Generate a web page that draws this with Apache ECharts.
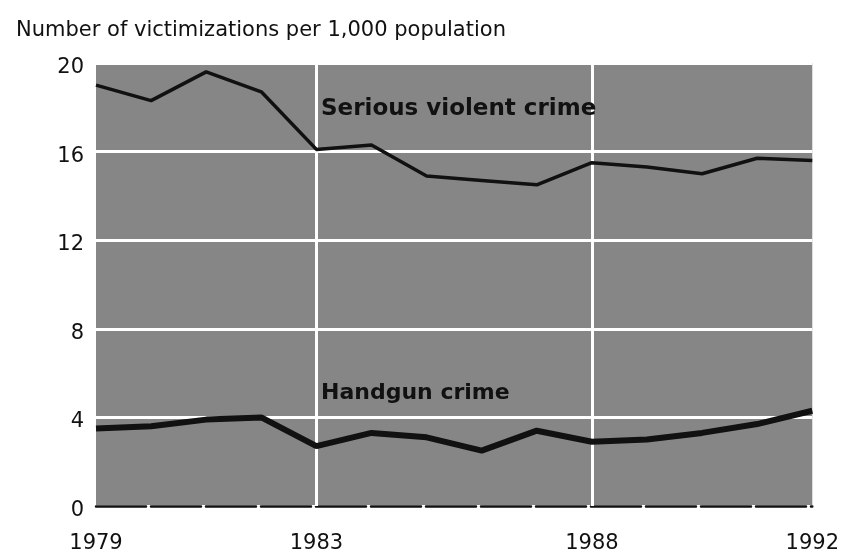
<!DOCTYPE html>
<html>
<head>
<meta charset="utf-8">
<script src="https://cdn.jsdelivr.net/npm/echarts@6/dist/echarts.min.js"></script>
<style>
html,body{margin:0;padding:0;background:#fff;}
#chart{width:842px;height:554px;}
</style>
</head>
<body>
<div id="chart"></div>
<script>
const years = [1979,1980,1981,1982,1983,1984,1985,1986,1987,1988,1989,1990,1991,1992];
const seriousViolent = [19.0,18.3,19.6,18.7,16.1,16.3,14.9,14.7,14.5,15.5,15.3,15.0,15.7,15.6];
const handgun = [3.5,3.6,3.9,4.0,2.7,3.3,3.1,2.5,3.4,2.9,3.0,3.3,3.7,4.3];
const xTickLabels = [1979,1983,1988,1992];
const xGridYears = [1983,1988];
const yTicks = [0,4,8,12,16,20];
const titleText = 'Number of victimizations per 1,000 population';
const seriousLabel = 'Serious violent crime';
const handgunLabel = 'Handgun crime';

const chart = echarts.init(document.getElementById('chart'), null, {renderer:'canvas'});
const pair = (arr) => years.map((y,i)=>[y,arr[i]]);

chart.setOption({
  animation:false,
  backgroundColor:'#ffffff',
  grid:{left:96,right:27,top:63,bottom:44,show:true,backgroundColor:'#868686',borderWidth:0},
  title:{text:titleText,left:11,top:15,textStyle:{fontFamily:'DejaVu Sans',fontSize:21,fontWeight:'normal',color:'#111'}},
  xAxis:{
    type:'value',min:1979,max:1992,interval:1,
    axisLine:{show:true,lineStyle:{color:'#111',width:2.5,type:[50,5]}},
    axisTick:{show:false},
    splitLine:{show:false},
    axisLabel:{customValues:xTickLabels,margin:27,fontFamily:'DejaVu Sans',fontSize:21,color:'#111',formatter:v=>String(v)}
  },
  yAxis:{
    type:'value',min:0,max:20,interval:4,
    axisLine:{show:false},axisTick:{show:false},
    splitLine:{show:true,lineStyle:{color:'#ffffff',width:3}},
    axisLabel:{margin:12,fontFamily:'DejaVu Sans',fontSize:21,color:'#111',verticalAlign:'top',padding:[-6,0,0,0]}
  },
  series:[
    {
      type:'line',data:pair(seriousViolent),symbol:'none',
      lineStyle:{color:'#111',width:3.5},z:5,
      markLine:{silent:true,symbol:'none',label:{show:false},
        lineStyle:{color:'#ffffff',width:3,type:'solid'},
        data:xGridYears.map(y=>({xAxis:y})),z:1}
    },
    {
      type:'line',data:pair(handgun),symbol:'none',
      lineStyle:{color:'#111',width:6},z:5
    }
  ],
  graphic:[
    {type:'text',left:321,top:98,z:10,style:{text:seriousLabel,fontFamily:'DejaVu Sans',fontWeight:'bold',fontSize:23,fill:'#111'}},
    {type:'text',left:321,top:382,z:10,style:{text:handgunLabel,fontFamily:'DejaVu Sans',fontWeight:'bold',fontSize:22,fill:'#111'}}
  ]
});
</script>
</body>
</html>
